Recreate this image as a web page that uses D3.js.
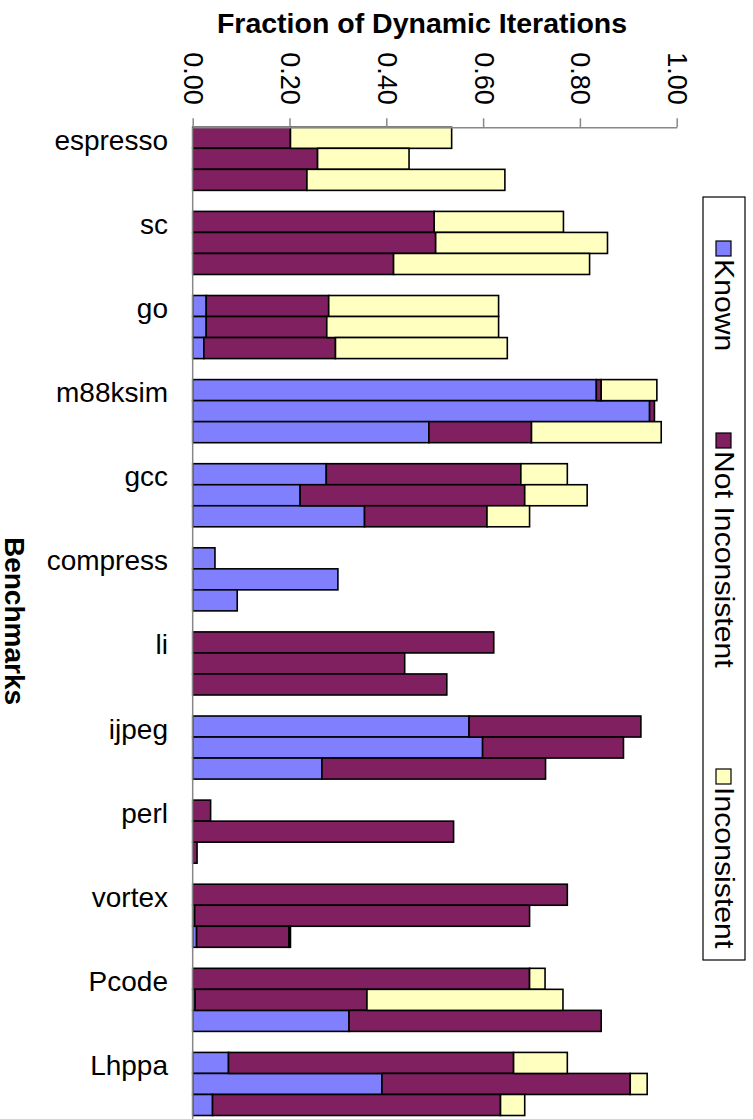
<!DOCTYPE html>
<html>
<head>
<meta charset="utf-8">
<script src="https://cdn.jsdelivr.net/npm/d3@7"></script>
<style>
  html, body { margin: 0; padding: 0; background: #fff; }
  svg { display: block; font-family: "Liberation Sans", Arial, sans-serif; }
</style>
</head>
<body>
<svg id="chart" width="753" height="1119"></svg>
<script>
// ---- data ----
const categories = ["espresso","sc","go","m88ksim","gcc","compress","li","ijpeg","perl","vortex","Pcode","Lhppa"];
const subBars = ["a","b","c"];
const seriesNames = ["Known","Not Inconsistent","Inconsistent"];
const seriesColors = ["#8080FF","#802060","#FFFFC0"];
const tickValues = [0, 0.2, 0.4, 0.6, 0.8, 1.0];

const knownVals = [[0,0,0],[0,0,0],[0.028,0.028,0.023],[0.834,0.944,0.488],[0.276,0.222,0.355],[0.046,0.300,0.092],[0,0,0],[0.571,0.599,0.267],[0,0,0],[0,0.004,0.008],[0,0.005,0.323],[0.074,0.391,0.041]];
const notInconVals = [[0.202,0.258,0.236],[0.499,0.502,0.415],[0.253,0.249,0.272],[0.010,0.010,0.212],[0.402,0.464,0.253],[0,0,0],[0.622,0.438,0.525],[0.355,0.291,0.462],[0.037,0.539,0.009],[0.774,0.692,0.191],[0.696,0.355,0.521],[0.589,0.513,0.595]];
const inconVals = [[0.333,0.189,0.409],[0.267,0.355,0.405],[0.351,0.355,0.355],[0.115,0,0.268],[0.096,0.129,0.088],[0,0,0],[0,0,0],[0,0,0],[0,0,0],[0,0,0.003],[0.032,0.405,0],[0.111,0.035,0.050]];

// ---- build table ----
const rows = [];
categories.forEach((c, i) => {
  subBars.forEach((s, j) => {
    rows.push({cat: c, sub: s,
      "Known": knownVals[i][j],
      "Not Inconsistent": notInconVals[i][j],
      "Inconsistent": inconVals[i][j]});
  });
});

const svg = d3.select("#chart");

const x = d3.scaleLinear().domain([0, 1]).range([192.7, 676.7]);
const y = d3.scaleBand().domain(categories).range([127.3, 1115.5]).paddingInner(0.25).paddingOuter(0).align(0);
const ySub = d3.scaleBand().domain(subBars).range([0, y.bandwidth()]);
const color = d3.scaleOrdinal().domain(seriesNames).range(seriesColors);

const stack = d3.stack().keys(seriesNames);
const stacked = stack(rows);

// bars
const g = svg.append("g");
stacked.forEach(layer => {
  g.selectAll(null)
    .data(layer.filter(d => d[1] - d[0] > 0))
    .enter().append("rect")
    .attr("x", d => x(d[0]))
    .attr("y", d => y(d.data.cat) + ySub(d.data.sub))
    .attr("width", d => x(d[1]) - x(d[0]))
    .attr("height", ySub.bandwidth())
    .attr("fill", color(layer.key))
    .attr("stroke", "#000")
    .attr("stroke-width", 1.6);
});

// category axis line
svg.append("line")
  .attr("x1", x(0)).attr("x2", x(0))
  .attr("y1", 127.3).attr("y2", 1119)
  .attr("stroke", "#888").attr("stroke-width", 1.5);

// value axis (top)
const axis = d3.axisTop(x).tickValues(tickValues).tickFormat(d3.format(".2f")).tickSize(9).tickSizeOuter(0);
const ax = svg.append("g").attr("transform", "translate(0,127.3)").call(axis);
ax.select(".domain").attr("stroke", "#888").attr("stroke-width", 1.5);
ax.selectAll(".tick line").attr("stroke", "#888").attr("stroke-width", 1.5);
ax.selectAll(".tick text")
  .attr("font-size", 27)
  .attr("fill", "#000")
  .attr("font-family", "Liberation Sans, Arial, sans-serif")
  .attr("text-anchor", "start")
  .attr("dominant-baseline", "central")
  .attr("x", 0).attr("y", 0).attr("dy", null)
  .attr("transform", "translate(0,-75) rotate(90)");

// category labels
svg.selectAll(".catLabel")
  .data(categories)
  .enter().append("text")
  .attr("class", "catLabel")
  .attr("x", 168)
  .attr("y", d => y(d) + 13)
  .attr("text-anchor", "end")
  .attr("dominant-baseline", "central")
  .attr("font-size", 28)
  .text(d => d);

// titles
svg.append("text")
  .attr("x", 422).attr("y", 33)
  .attr("text-anchor", "middle")
  .attr("font-size", 28.5).attr("font-weight", "bold")
  .text("Fraction of Dynamic Iterations");

svg.append("text")
  .attr("transform", "translate(14,621) rotate(90)")
  .attr("text-anchor", "middle")
  .attr("dominant-baseline", "central")
  .attr("font-size", 28).attr("font-weight", "bold")
  .text("Benchmarks");

// legend
svg.append("rect")
  .attr("x", 703).attr("y", 197).attr("width", 42).attr("height", 763)
  .attr("fill", "#fff").attr("stroke", "#000").attr("stroke-width", 1.2);
const legendY = [241, 433, 769];
seriesNames.forEach((s, i) => {
  svg.append("rect")
    .attr("x", 716).attr("y", legendY[i]).attr("width", 15).attr("height", 15)
    .attr("fill", color(s)).attr("stroke", "#000").attr("stroke-width", 1.2);
  svg.append("text")
    .attr("transform", `translate(724,${legendY[i] + 18}) rotate(90) scale(1.12,1)`)
    .attr("text-anchor", "start")
    .attr("dominant-baseline", "central")
    .attr("font-size", 27)
    .text(s);
});
</script>
</body>
</html>
